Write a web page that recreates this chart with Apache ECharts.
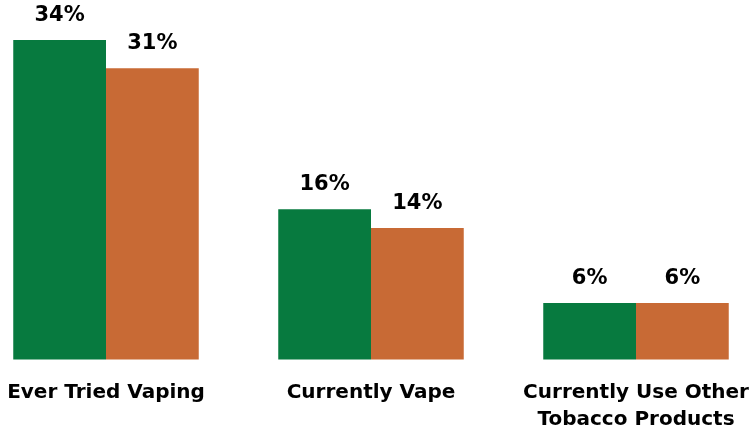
<!DOCTYPE html>
<html><head><meta charset="utf-8">
<script src="https://cdn.jsdelivr.net/npm/echarts@6/dist/echarts.min.js"></script>
<style>html,body{margin:0;padding:0;background:#fff}#c{width:750px;height:432px}</style>
</head><body><div id="c"></div>
<script>
const categories = ['Ever Tried Vaping', 'Currently Vape', 'Currently Use Other\nTobacco Products'];
const seriesA = [34, 16, 6];
const seriesB = [31, 14, 6];
const colors = ['#077a3f', '#c86a35'];
const chart = echarts.init(document.getElementById('c'));
const font = '"DejaVu Sans", sans-serif';
const lbl = {show: true, position: 'top', distance: 14, formatter: '{c}%', color: '#000', fontWeight: 'bold', fontSize: 21, fontFamily: font};
chart.setOption({
  animation: false,
  grid: {left: -26.5, width: 795, top: 40, bottom: 72.5, containLabel: false, outerBoundsMode: 'none'},
  xAxis: {type: 'category', data: categories, axisLine: {show: false}, axisTick: {show: false},
    axisLabel: {color: '#000', fontWeight: 'bold', fontSize: 20, fontFamily: font, margin: 20, lineHeight: 27, interval: 0}},
  yAxis: {type: 'value', min: 0, max: 34, show: false, splitLine: {show: false}},
  series: [
    {type: 'bar', data: seriesA, itemStyle: {color: colors[0]}, barGap: '0%', barCategoryGap: '30%', label: lbl},
    {type: 'bar', data: seriesB, itemStyle: {color: colors[1]}, label: lbl}
  ]
});
</script></body></html>
